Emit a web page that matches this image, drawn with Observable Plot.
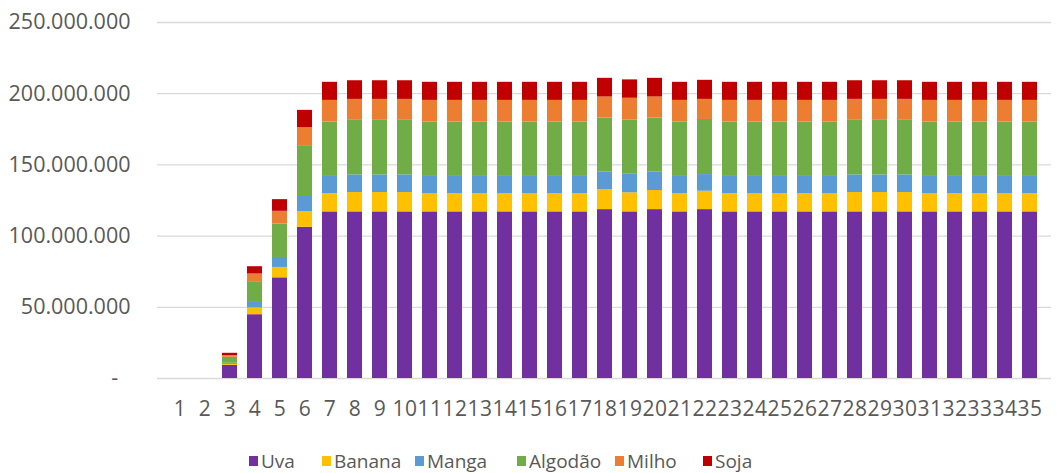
<!DOCTYPE html>
<html><head><meta charset="utf-8">
<script src="https://cdn.jsdelivr.net/npm/d3@7"></script>
<script src="https://cdn.jsdelivr.net/npm/@observablehq/plot@0.6"></script>
<style>
body{margin:0;background:#fff;font-family:"Open Sans",sans-serif;}
#chart{position:relative;width:1057px;height:473px;overflow:hidden;}
#chart svg{display:block;}
#chart svg [aria-label="x-axis tick label"] text{letter-spacing:0.5px;}
.legend{position:absolute;top:450px;left:0;width:1057px;height:22px;}
.item{position:absolute;top:0;display:flex;align-items:center;font-size:19px;color:#595959;line-height:22px;white-space:nowrap;}
.sw{width:9px;height:10px;margin-right:3px;}
</style></head><body><div id="chart"></div><script>
// ---- data (values in millions) ----
const categories = ["1","2","3","4","5","6","7","8","9","10","11","12","13","14","15","16","17","18","19","20","21","22","23","24","25","26","27","28","29","30","31","32","33","34","35"];
const seriesNames = ["Uva","Banana","Manga","Algodão","Milho","Soja"];
const colors = ["#7030A0","#FFC000","#5B9BD5","#70AD47","#ED7D31","#C00000"];
const uva     = [0,0,9.2,44.8,70.7,106.2,117.0,117.0,117.0,117.0,117.0,117.0,117.0,117.0,117.0,117.0,117.0,118.6,117.0,118.6,117.0,118.6,117.0,117.0,117.0,117.0,117.0,117.0,117.0,117.0,117.0,117.0,117.0,117.0,117.0];
const banana  = [0,0,0.7,4.7,7.3,11.0,12.7,13.6,13.6,13.6,12.7,12.7,12.7,12.7,12.7,12.7,12.7,13.9,13.4,13.4,12.7,12.9,12.7,12.7,12.7,12.7,12.7,13.6,13.6,13.6,12.7,12.7,12.7,12.7,12.7];
const manga   = [0,0,0.8,3.9,7.0,11.3,12.2,12.4,12.4,12.4,12.2,12.2,12.2,12.2,12.2,12.2,12.2,12.4,13.4,12.9,12.2,11.7,12.2,12.2,12.2,12.2,12.2,12.4,12.4,12.4,12.2,12.2,12.2,12.2,12.2];
const algodao = [0,0,4.2,14.1,23.5,34.5,38.2,38.7,38.7,38.7,38.2,38.2,38.2,38.2,38.2,38.2,38.2,38.0,37.8,38.0,38.2,38.7,38.2,38.2,38.2,38.2,38.2,38.7,38.7,38.7,38.2,38.2,38.2,38.2,38.2];
const milho   = [0,0,1.2,5.9,8.9,13.1,15.2,14.3,14.3,14.3,15.2,15.2,15.2,15.2,15.2,15.2,15.2,14.8,15.2,14.8,15.2,14.1,15.2,15.2,15.2,15.2,15.2,14.3,14.3,14.3,15.2,15.2,15.2,15.2,15.2];
const soja    = [0,0,1.6,5.1,8.2,12.2,12.7,13.1,13.1,13.1,12.7,12.7,12.7,12.7,12.7,12.7,12.7,13.1,12.9,13.1,12.7,13.4,12.7,12.7,12.7,12.7,12.7,13.1,13.1,13.1,12.7,12.7,12.7,12.7,12.7];
const yTicks = [0,50e6,100e6,150e6,200e6,250e6];

const seriesValues = [uva,banana,manga,algodao,milho,soja];
const data = [];
categories.forEach((c,i)=>{
  seriesNames.forEach((s,j)=>{
    data.push({cat:c, series:s, value:seriesValues[j][i]*1e6});
  });
});

const fmt = d3.formatLocale({decimal:",", thousands:".", grouping:[3], currency:["",""]}).format(",.0f");

const chart = Plot.plot({
  width:1057, height:440,
  marginLeft:157, marginRight:6, marginTop:22, marginBottom:62,
  style:{fontFamily:"'Open Sans', sans-serif", fontSize:"20px", color:"#595959", background:"#fff"},
  x:{domain:categories, paddingInner:0.41, paddingOuter:0.2, label:null},
  y:{domain:[0,250e6], label:null},
  color:{domain:seriesNames, range:colors},
  marks:[
    Plot.gridY(yTicks,{stroke:"#d9d9d9", strokeOpacity:1, strokeWidth:1.3}),
    Plot.barY(data,{x:"cat", y:"value", fill:"series", order:seriesNames}),
    Plot.axisY(yTicks,{tickSize:0, tickPadding:27, tickFormat:d=> d===0 ? "-\u2007" : fmt(d), fontSize:21.5, fill:"#595959", label:null}),
    Plot.axisX({tickSize:0, tickPadding:23, fontSize:21, fill:"#595959", label:null})
  ]
});
const root = document.getElementById("chart");
root.appendChild(chart);

const legendX = [249,322,415,517,615,703];
const leg = document.createElement("div");
leg.className = "legend";
seriesNames.forEach((s,i)=>{
  const it = document.createElement("div");
  it.className = "item";
  it.style.left = legendX[i] + "px";
  const sw = document.createElement("span");
  sw.className = "sw";
  sw.style.background = colors[i];
  const t = document.createElement("span");
  t.textContent = s;
  it.appendChild(sw); it.appendChild(t);
  leg.appendChild(it);
});
root.appendChild(leg);
</script></body></html>
